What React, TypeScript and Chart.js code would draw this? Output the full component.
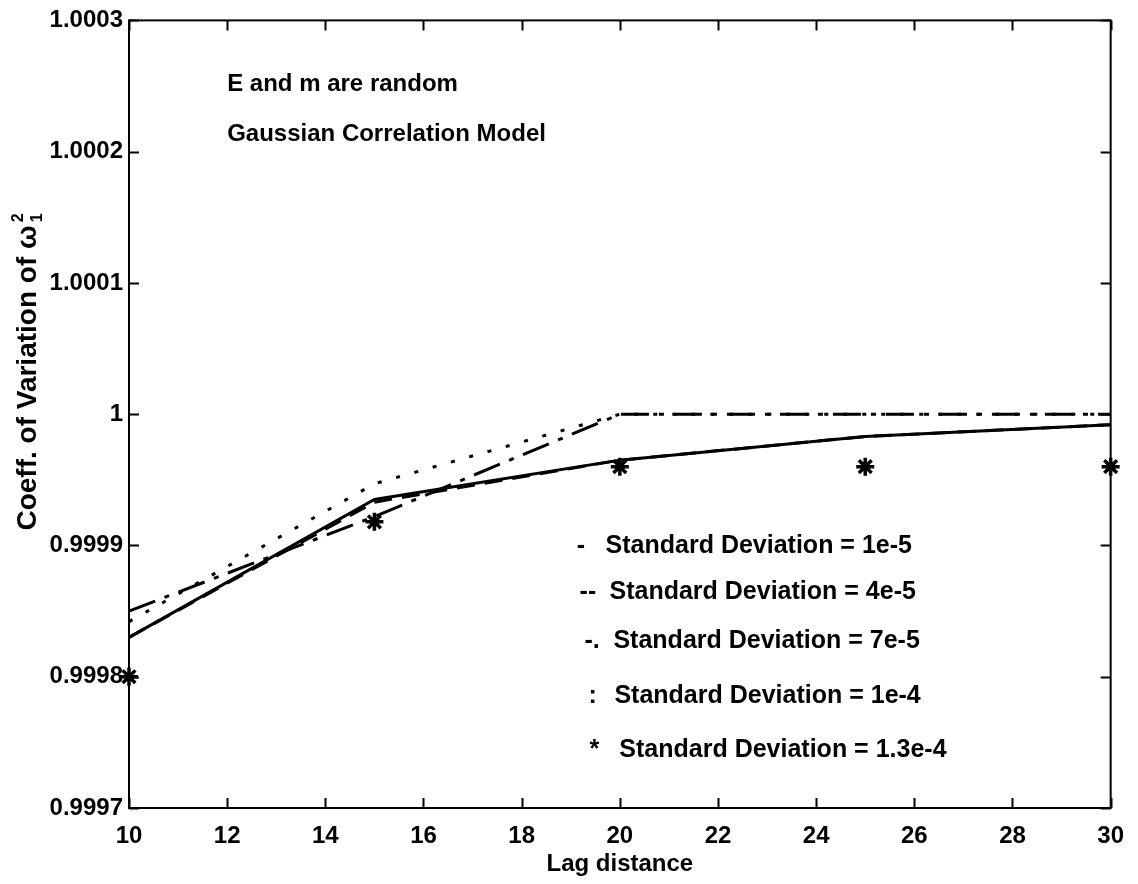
import { useEffect, useRef } from "react";
import { Chart, registerables } from "chart.js";

Chart.register(...registerables);

// Lag distances at which the coefficient of variation was evaluated
const lagDistances = [10, 15, 20, 25, 30];

// Coefficient of variation of omega_1^2 for each standard deviation level
const sd1e5 = [0.99983, 0.999935, 0.999965, 0.999983, 0.999992];
const sd4e5 = [0.99983, 0.999933, 0.999965, 0.999983, 0.999992];
const sd7e5 = [0.99985, 0.999922, 1.0, 1.0, 1.0];
const sd1e4 = [0.999842, 0.999947, 1.0, 1.0, 1.0];
const sd13e4 = [0.9998, 0.999918, 0.99996, 0.99996, 0.99996];

const xTickValues = [10, 12, 14, 16, 18, 20, 22, 24, 26, 28, 30];
const yTickValues = [0.9997, 0.9998, 0.9999, 1, 1.0001, 1.0002, 1.0003];
const yTickLabels = ["0.9997", "0.9998", "0.9999", "1", "1.0001", "1.0002", "1.0003"];

const legendSymbols = ["-", "--", "-.", ":", "*"];
const legendLabels = [
  "Standard Deviation = 1e-5",
  "Standard Deviation = 4e-5",
  "Standard Deviation = 7e-5",
  "Standard Deviation = 1e-4",
  "Standard Deviation = 1.3e-4",
];
// text anchors in data units (lag, value), placed like MATLAB text() calls
const legendSymbolX = [19.12, 19.18, 19.28, 19.36, 19.38];
const legendTextX = [19.71, 19.79, 19.87, 19.89, 19.99];
const legendBaseY = [0.999894, 0.999859, 0.999822, 0.99978, 0.999739];

const notes = ["E and m are random", "Gaussian Correlation Model"];
const noteX = 12.0;
const noteBaseY = [1.000246, 1.000208];

const FONT = "'Liberation Sans', Arial, Helvetica, sans-serif";

const toPoints = (ys: number[]) => lagDistances.map((x, i) => ({ x, y: ys[i] }));

const frameAndText = {
  id: "frameAndText",
  afterDraw(chart: any) {
    const { ctx, chartArea } = chart;
    const xs = chart.scales.x;
    const ys = chart.scales.y;
    const { left, right, top, bottom } = chartArea;
    ctx.save();
    ctx.strokeStyle = "#000";
    ctx.fillStyle = "#000";

    // axes box
    ctx.lineWidth = 2;
    ctx.strokeRect(left, top, right - left, bottom - top);

    // inward tick marks on all four sides
    const tl = 10;
    ctx.beginPath();
    xTickValues.forEach((v) => {
      const px = Math.round(xs.getPixelForValue(v)) + 0.5;
      ctx.moveTo(px, bottom);
      ctx.lineTo(px, bottom - tl);
      ctx.moveTo(px, top);
      ctx.lineTo(px, top + tl);
    });
    yTickValues.forEach((v) => {
      const py = Math.round(ys.getPixelForValue(v)) + 0.5;
      ctx.moveTo(left, py);
      ctx.lineTo(left + tl, py);
      ctx.moveTo(right, py);
      ctx.lineTo(right - tl, py);
    });
    ctx.stroke();

    // annotations
    ctx.textBaseline = "alphabetic";
    ctx.textAlign = "left";
    ctx.font = `bold 24px ${FONT}`;
    notes.forEach((t, i) => {
      ctx.fillText(t, xs.getPixelForValue(noteX), ys.getPixelForValue(noteBaseY[i]));
    });

    // legend lines
    ctx.font = `bold 25px ${FONT}`;
    legendLabels.forEach((t, i) => {
      const by = ys.getPixelForValue(legendBaseY[i]);
      ctx.fillText(legendSymbols[i], xs.getPixelForValue(legendSymbolX[i]), by);
      ctx.fillText(t, xs.getPixelForValue(legendTextX[i]), by);
    });

    // x-axis title
    ctx.textAlign = "center";
    ctx.font = `bold 24px ${FONT}`;
    ctx.fillText("Lag distance", (left + right) / 2, 871);

    // y-axis title with subscript and superscript
    const main = "Coeff. of Variation of \u03c9";
    ctx.font = `bold 28px ${FONT}`;
    const wMain = ctx.measureText(main).width;
    ctx.font = `bold 16px ${FONT}`;
    const wSmall = ctx.measureText("2").width;
    const total = wMain + wSmall + 3;
    ctx.translate(36, 372);
    ctx.rotate(-Math.PI / 2);
    ctx.textAlign = "left";
    ctx.font = `bold 28px ${FONT}`;
    ctx.fillText(main, -total / 2, 0);
    ctx.font = `bold 16px ${FONT}`;
    ctx.fillText("1", -total / 2 + wMain + 3, 6);
    ctx.fillText("2", -total / 2 + wMain + 3, -13);
    ctx.restore();
  },
};

export default function App() {
  const canvasRef = useRef<HTMLCanvasElement | null>(null);

  useEffect(() => {
    if (!canvasRef.current) return;
    const lineBase = {
      borderColor: "#000",
      backgroundColor: "#000",
      borderWidth: 3,
      pointRadius: 0,
      fill: false,
      tension: 0,
      clip: false as const,
    };
    const chart = new Chart(canvasRef.current, {
      type: "line",
      data: {
        datasets: [
          { ...lineBase, label: legendLabels[0], data: toPoints(sd1e5) },
          { ...lineBase, label: legendLabels[1], data: toPoints(sd4e5), borderDash: [18, 10] },
          { ...lineBase, label: legendLabels[2], data: toPoints(sd7e5), borderDash: [28, 10, 5, 10] },
          { ...lineBase, label: legendLabels[3], data: toPoints(sd1e4), borderDash: [4, 15] },
          {
            ...lineBase,
            label: legendLabels[4],
            data: toPoints(sd13e4),
            showLine: false,
            pointStyle: "star",
            pointRadius: 9,
            borderWidth: 3.5,
          },
        ],
      },
      options: {
        responsive: false,
        animation: false,
        devicePixelRatio: 1,
        layout: { padding: { top: 17, right: 20, left: 0, bottom: 0 } },
        plugins: { legend: { display: false }, tooltip: { enabled: false } },
        scales: {
          x: {
            type: "linear",
            min: 10,
            max: 30,
            border: { display: false },
            grid: { display: false, drawTicks: false },
            afterBuildTicks: (scale: any) => {
              scale.ticks = xTickValues.map((v) => ({ value: v }));
            },
            afterFit: (scale: any) => {
              scale.height = 76;
            },
            ticks: {
              padding: 14,
              color: "#000",
              maxRotation: 0,
              autoSkip: false,
              font: { family: FONT, size: 24, weight: "bold" },
              callback: (v: any) => String(v),
            },
          },
          y: {
            type: "linear",
            min: 0.9997,
            max: 1.0003,
            border: { display: false },
            grid: { display: false, drawTicks: false },
            afterBuildTicks: (scale: any) => {
              scale.ticks = yTickValues.map((v) => ({ value: v }));
            },
            afterFit: (scale: any) => {
              scale.width = 129;
            },
            ticks: {
              padding: 6,
              color: "#000",
              autoSkip: false,
              font: { family: FONT, size: 24, weight: "bold" },
              callback: (_v: any, i: number) => yTickLabels[i],
            },
          },
        },
      },
      plugins: [frameAndText],
    } as any);
    return () => chart.destroy();
  }, []);

  return (
    <div style={{ position: "absolute", left: 0, top: 0, width: 1138, height: 884, background: "#fff" }}>
      <canvas ref={canvasRef} width={1138} height={884} style={{ display: "block" }} />
    </div>
  );
}
